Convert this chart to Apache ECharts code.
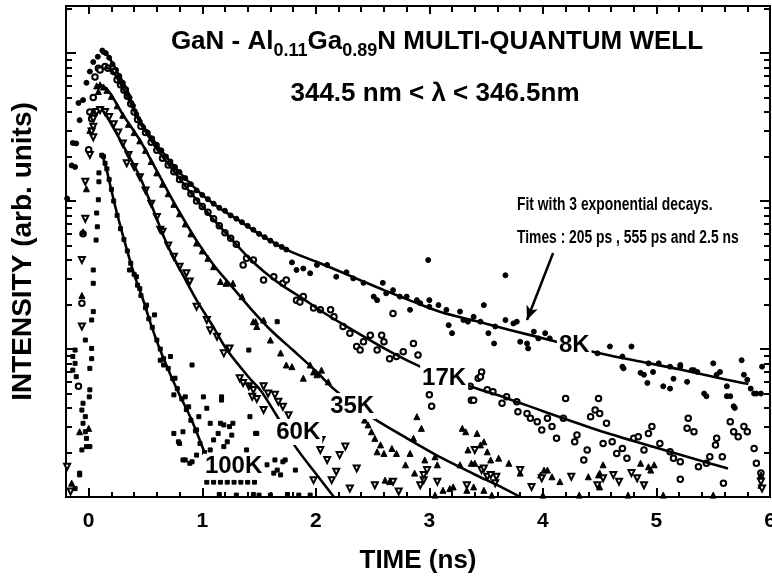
<!DOCTYPE html>
<html>
<head>
<meta charset="utf-8">
<script src="https://cdn.jsdelivr.net/npm/echarts@6/dist/echarts.min.js"></script>
<style>
  html, body { margin: 0; padding: 0; background: #fff; }
  #chart { width: 772px; height: 580px; }
</style>
</head>
<body>
<div id="chart"></div>
<script>
// Time-resolved PL of a GaN / AlGaN multi-quantum well, 344.5-346.5 nm window.
// Points are [time (ns), intensity (arb. units)].

const points8K = [
  [-0.19,104],[-0.15,174],[-0.14,247],[-0.12,170],[-0.11,245],[-0.09,460],[-0.08,352],[-0.05,481],[-0.02,630],[0.01,750],[0.04,870],[0.08,945],
  [0.12,1040],[0.15,1000],[0.18,930],[0.21,840],[0.24,770],[0.27,700],[0.30,630],[0.33,570],[0.36,500],[0.39,440],[0.42,385],[0.45,345],[0.48,315],
  [0.52,290],[0.56,265],[0.60,240],[0.64,220],[0.68,200],[0.72,185],[0.76,170],[0.80,157],[0.85,143],[0.90,130],[0.95,118],[1.00,110],[1.05,103],
  [1.10,96],[1.15,90],[1.20,86],[1.25,80],[1.30,76],[1.35,72],[1.40,68],[1.45,64],[1.50,60],[1.55,57],[1.60,54],[1.65,51],[1.70,49],[1.74,47],
  [1.79,38.5],[1.83,34.2],[1.89,35],[1.95,32.5],[2.01,37],[2.10,37],[2.18,30.8],[2.27,33],[2.33,30],[2.42,28],[2.51,22.6],[2.54,21.4],[2.59,28],
  [2.62,23.8],[2.68,25],[2.74,22.6],[2.80,22.6],[2.83,18.4],[2.89,21.4],[2.92,20.4],[2.99,39.9],[3.00,21.4],[3.00,19.3],[3.08,19.8],[3.15,18.4],
  [3.17,14.5],[3.20,12.8],[3.27,17.9],[3.30,15.7],[3.34,15.3],[3.39,16.5],[3.45,15.3],[3.48,19.8],[3.52,12.8],[3.57,10.9],[3.58,14.2],[3.67,15.7],
  [3.67,31.5],[3.74,14.9],[3.77,15.3],[3.80,11.2],[3.86,10.9],[3.87,10.1],[3.92,13.1],[3.96,11.8],[4.02,12.8],[4.06,11.8],
  [4.48,9.35],[4.59,10.4],[4.70,8.9],[4.78,10.4],[4.71,7.4],[4.86,6.9],[4.93,8.0],[5.02,8.0],[5.12,7.6],[5.21,7.8],[5.31,7.2],[5.36,7.0],
  [5.50,8.0],[5.56,7.0],[5.75,8.4],[5.77,6.7],[4.70,7.6],[4.89,6.7],[4.92,5.9],[4.97,7.0],[5.06,5.6],[5.12,5.4],[5.15,6.3],[5.21,7.6],
  [5.27,6.0],[5.33,7.2],[5.42,5.0],[5.44,4.8],[5.53,6.7],[5.62,5.6],[5.65,4.8],[5.69,4.0],[5.83,5.4],[5.88,5.0],[5.93,7.6],[5.62,4.8],
  [5.68,4.1],[5.86,5.0],[5.92,5.0],[5.80,6.2]
];

const points17K = [
  [-0.09,5.6],[-0.06,20.4],[-0.05,60],[0.00,222],[0.01,400],[0.026,360],[0.04,500],[0.055,690],[0.085,790],[0.10,767],
  [0.144,810],[0.17,790],[0.22,750],[0.25,660],[0.28,610],[0.31,560],[0.34,510],[0.37,455],[0.40,400],[0.43,355],[0.46,320],[0.50,290],
  [0.55,250],[0.60,220],[0.65,195],[0.70,175],[0.75,158],[0.80,140],[0.85,126],[0.90,112],[0.95,100],[1.00,92],[1.05,84],[1.10,76],
  [1.15,68],[1.20,61],[1.25,56],[1.30,51],[1.36,37],[1.39,41],[1.45,40],[1.54,29.3],[1.63,30.8],[1.71,27.8],[1.74,29.3],[1.83,21.4],
  [1.86,20.8],[1.89,22.6],[1.98,18.9],[2.04,18.4],[2.13,18.4],[2.16,16.5],[2.24,14.2],[2.30,12.8],[2.36,10.4],[2.39,9.84],[2.42,11.2],
  [2.48,12.4],[2.54,9.84],[2.58,12.4],[2.60,11.2],[2.65,8.6],[2.68,17.4],[2.71,8.9],[2.77,9.6],[2.86,10.9],[2.90,9.1],
  [3.00,4.9],[3.02,4.1],[3.37,4.5],[3.43,6.35],[3.46,7.0],[3.36,5.6],[3.39,4.5],[3.45,6.5],[3.51,5.3],[3.56,5.15],[3.64,4.3],[3.68,4.75],
  [3.77,4.4],[3.78,3.77],[3.86,3.67],[3.89,3.4],[3.95,3.22],[3.99,2.84],[4.04,3.4],[4.08,2.99],[4.12,2.49],[4.20,4.63],[4.18,3.4],
  [4.28,2.36],[4.30,2.62],[4.36,1.78],[4.39,2.08],[4.42,3.49],[4.46,3.87],[4.49,4.63],[4.50,3.67],[4.53,2.3],[4.56,3.15],[4.61,2.36],
  [4.65,1.97],[4.70,2.13],[4.74,1.83],[4.80,2.49],[4.84,2.55],[4.89,2.08],[4.93,2.69],[4.96,2.99],[5.03,2.3],[5.12,2.02],[5.15,1.83],
  [5.21,1.73],[5.28,3.4],[5.27,2.91],[5.33,2.76],[5.37,1.6],[5.44,1.69],[5.47,1.87],[5.52,2.25],[5.53,2.49],[5.58,1.87],[5.59,1.24],
  [5.65,3.22],[5.68,2.76],[5.72,2.55],[5.77,2.99],[5.80,2.76],[5.86,2.13],[5.88,1.69],[5.92,1.45],[5.21,1.32]
];

const points35K = [
  [-0.15,1.24],[-0.08,2.76],[0.00,2.91],[-0.06,23],[-0.05,62],[-0.02,121],[0.01,300],[0.04,405],[0.07,600],[0.085,550],
  [0.10,610],[0.13,590],[0.16,560],[0.20,510],[0.25,440],[0.30,380],[0.35,330],[0.40,290],[0.45,255],[0.50,220],[0.55,185],[0.60,155],
  [0.65,130],[0.70,112],[0.75,95],[0.80,82],[0.85,70],[0.90,60],[0.95,52],[1.00,46],[1.05,41],[1.10,36],[1.16,28.6],[1.21,27.8],
  [1.27,27.8],[1.35,22.6],[1.45,15.3],[1.48,14.2],[1.47,15.3],[1.54,15.7],[1.60,11.5],[1.69,9.4],[1.74,7.8],[1.79,7.6],[1.89,6.35],
  [1.95,7.8],[1.98,7.0],[2.01,6.7],[2.05,7.2],[2.11,6.0],
  [2.43,3.31],[2.46,3.07],[2.49,2.76],[2.52,2.49],[2.57,2.25],[2.54,2.02],[2.60,1.97],[2.67,2.13],[2.71,1.97],[2.79,1.65],[2.83,1.97],
  [2.89,3.49],[2.93,2.91],[2.86,2.49],[2.96,1.78],[3.07,1.65],[3.05,1.87],[3.12,1.11],[2.61,1.3],[2.65,1.27],[3.27,1.65],[3.29,2.91],
  [3.32,2.76],[3.42,2.69],[3.45,2.25],[3.48,2.36],[3.51,2.02],[3.37,1.69],[3.54,1.78],[3.61,1.83],[3.33,1.11],[3.48,1.11],[3.18,1.14],
  [2.87,1.45],[3.34,2.08],[3.40,1.69],[3.70,1.69],[3.80,1.45],[3.98,1.41],[4.01,1.52],[4.04,1.52],[4.08,1.37],[4.15,1.27],[4.40,1.37],
  [4.49,1.41],[4.53,1.65],[4.86,1.69],[4.93,1.6],[4.50,1.17],[3.21,1.17],[3.39,1.17],[5.92,1.41],[4.95,1.52],[4.98,1.65],[5.92,1.2],
  [4.50,1.45],[3.05,1.03],[3.55,1.03],[4.00,1.03],[4.32,1.03],[4.75,1.03],[5.06,1.03],[5.50,1.03]
];

const points60K = [
  [-0.19,1.6],[-0.16,1.09],[-0.06,14.2],[-0.06,40],[-0.03,76],[-0.03,135],[0.01,205],[0.04,270],[0.026,295],[0.04,318],[0.04,360],[0.07,400],
  [0.10,412],[0.144,400],[0.18,370],[0.22,330],[0.26,290],[0.30,245],[0.335,180],[0.35,205],[0.40,170],[0.45,145],[0.50,118],[0.55,96],
  [0.60,78],[0.63,64],[0.65,62],[0.70,50],[0.75,42],[0.80,36],[0.86,32.5],[0.89,28.6],[0.95,19.3],[1.04,15.7],[1.07,13.4],[1.13,12.1],
  [1.19,9.35],[1.24,10.1],[1.33,6.35],[1.36,5.9],[1.41,5.6],[1.44,4.75],[1.45,5.28],[1.48,4.6],[1.54,5.6],[1.54,3.87],[1.58,5.0],
  [1.64,4.9],[1.67,4.4],[1.71,4.07],[1.76,3.57],[1.98,1.3],[2.04,2.08],[2.05,2.43],[2.10,1.78],[2.14,1.3],[2.18,1.48],[2.21,1.92],
  [2.26,2.19],[2.30,1.14],[2.36,1.56],[2.52,1.2],[2.68,1.27],[2.73,1.09],[2.92,1.2],[2.95,1.3],[2.98,1.52],[3.07,1.27],[3.33,1.2],
  [3.40,2.08],[3.46,1.52],[3.48,1.56],[3.51,1.37],[3.54,1.41],[3.58,1.24],[3.59,1.37],[3.80,1.52],[3.90,1.17],[3.99,1.34],[4.25,1.37],
  [4.48,1.2],[4.53,1.34],[4.62,1.41],[4.67,1.27],[4.78,1.45],[4.83,1.34],[4.89,1.2],[5.92,1.27],[5.93,1.14],[2.95,1.41]
];

const points100K = [
  [-0.12,9.84],[-0.14,8.9],[-0.12,8.0],[-0.14,7.2],[-0.11,6.5],[-0.05,4.3],[-0.06,3.87],[-0.03,3.49],[-0.05,3.15],[-0.03,2.76],
  [-0.02,2.49],[-0.06,2.08],[0.01,2.19],[-0.08,1.45],[-0.12,1.14],
  [-0.08,1.41],[-0.02,2.19],[0.005,4.75],[0.01,5.3],[0.01,7.4],[0.026,8.6],[0.026,10.1],[-0.03,11.5],[0.026,15.7],[0.04,17.9],
  [0.04,27.8],[0.04,34.2],[0.065,54.5],[0.076,67],[0.07,83],[0.085,102],[0.09,135],[0.09,155],
  [0.115,204],[0.13,200],[0.144,180],[0.16,165],[0.18,140],[0.20,120],[0.22,100],[0.25,80],[0.28,65],[0.31,55],[0.34,46],[0.36,34.2],
  [0.37,38],[0.40,32],[0.42,30.8],[0.43,27],[0.45,25.6],[0.46,23],[0.50,19],[0.51,19.8],[0.53,16],[0.56,14],[0.58,17.0],[0.60,11.5],
  [0.63,10],[0.63,8.4],[0.66,8.6],[0.66,7.8],[0.70,7.4],[0.72,8.9],[0.74,6.3],[0.76,6.35],[0.78,5.4],[0.82,4.6],[0.75,4.9],[0.85,4.75],
  [0.86,3.9],[0.88,4.07],[0.90,3.3],[0.91,7.8],[0.94,2.8],[0.98,2.3],[1.01,4.75],[0.97,3.49],[0.95,2.84],[1.02,2.0],[1.04,3.98],
  [1.07,3.15],[1.10,2.43],[1.16,3.15],[1.22,2.36],[1.27,3.15],[1.19,2.19],[0.75,2.69],[0.79,2.36],[0.83,2.76],[0.80,2.3],[0.85,1.78],
  [0.91,1.73],[0.95,1.92],[1.17,4.75],[1.42,3.49],[1.41,9.84],[1.17,4.52],[1.48,2.69],[1.39,2.08],[1.19,3.07],[1.24,2.99],[1.26,2.62],
  [1.14,2.69],[1.07,2.08],[1.57,1.65],[1.64,1.78],[1.66,1.52],[1.73,1.78],[1.63,1.45],[1.82,1.52],[1.69,1.41],[0.83,1.78],[0.89,1.69],
  [1.42,5.6],[1.47,2.69],[1.71,1.73],[1.66,15.3],
  [1.04,1.26],[1.10,1.26],[1.16,1.26],[1.22,1.26],[1.28,1.26],[1.34,1.26],[1.40,1.26],[1.46,1.26],
  [1.15,1.04],[1.30,1.03],[1.45,1.04],[1.50,1.03],[1.60,1.03],[1.75,1.04],[1.85,1.03],[1.95,1.03]
];

// Three-exponential fits, one curve per temperature
const fit8K = [
  [0.11,1000],[0.16,980],[0.20,880],[0.25,750],[0.30,640],[0.34,560],[0.40,420],[0.45,345],[0.52,290],[0.60,240],[0.70,192],
  [0.80,156],[0.90,130],[1.00,110],[1.15,90],[1.30,76],[1.50,60],[1.74,47],[2.00,39],[2.15,35],[2.40,29],[2.60,25],[2.85,21],
  [3.10,17.8],[3.40,15.5],[3.70,13.5],[4.06,11.5],[4.44,9.6],[4.80,8.4],[5.20,7.3],[5.62,6.2],[5.81,5.8]
];
const fit17K = [
  [0.15,800],[0.20,770],[0.25,680],[0.30,580],[0.35,490],[0.40,410],[0.45,340],[0.50,295],[0.60,225],[0.70,178],[0.80,142],
  [0.90,113],[1.00,92],[1.10,75],[1.25,56],[1.40,42],[1.55,33],[1.70,27],[1.86,22.6],[2.05,18],[2.27,14.2],[2.50,11.2],[2.70,9.2],
  [2.92,7.6],[3.13,6.5],[3.33,5.7],[3.70,4.6],[4.00,3.8],[4.48,2.84],[5.00,2.15],[5.30,1.84],[5.63,1.56]
];
const fit35K = [
  [0.10,610],[0.15,580],[0.20,520],[0.30,385],[0.45,258],[0.60,160],[0.70,115],[0.80,84],[0.95,54],[1.10,37],[1.25,27],[1.42,19],
  [1.60,13.5],[1.80,9.8],[2.00,7.1],[2.155,5.4],[2.32,4.3],[2.508,3.4],[2.80,2.5],[3.10,1.85],[3.40,1.42],[3.63,1.17],[3.80,1.0]
];
const fit60K = [
  [0.13,405],[0.20,330],[0.30,240],[0.45,146],[0.55,95],[0.69,51],[0.80,35],[0.95,21.4],[1.10,14],[1.22,9.8],[1.42,6.3],
  [1.51,5.3],[1.66,3.5],[1.82,2.19],[2.00,1.44],[2.16,1.0]
];
const fit100K = [
  [0.12,204],[0.16,160],[0.20,118],[0.25,82],[0.32,52],[0.40,32],[0.48,21.4],[0.55,14.5],[0.63,9.8],[0.72,6.7],[0.80,4.9],
  [0.90,3.4],[1.02,2.0]
];

// Temperature tags placed on their curves: [time, intensity, text]
const curveTags = [
  [4.276,10.6,'8K'],[3.13,6.37,'17K'],[2.32,4.12,'35K'],[1.845,2.75,'60K'],[1.276,1.6,'100K']
];
// Arrow from the fit note down to the 8K curve
const arrowFrom = [4.09,44.5];
const arrowTo = [3.86,15.7];

// Axis ticks
const timeMajorTicks = [0,1,2,3,4,5,6];
const timeMinorTicks = [-0.2,0.2,0.4,0.6,0.8,1.2,1.4,1.6,1.8,2.2,2.4,2.6,2.8,3.2,3.4,3.6,3.8,4.2,4.4,4.6,4.8,5.2,5.4,5.6,5.8];
const intensityMajorTicks = [1,10,100,1000];
const intensityMinorTicks = [2,3,4,5,6,7,8,9,20,30,40,50,60,70,80,90,200,300,400,500,600,700,800,900,2000];

const FONT = "'Liberation Sans', Arial, Helvetica, sans-serif";
const BLACK = '#000';
const X_MIN = -0.2, X_MAX = 6, Y_MIN = 1, Y_MAX = 2080;

function xAxisDef(position, ticks, len, withLabels) {
  return {
    type: 'value', position, min: X_MIN, max: X_MAX,
    axisLine: { show: true, onZero: false, lineStyle: { color: BLACK, width: 2 } },
    axisTick: { show: true, inside: true, length: len, customValues: ticks, lineStyle: { color: BLACK, width: 2 } },
    axisLabel: withLabels
      ? { show: true, customValues: timeMajorTicks, margin: 14, color: BLACK, fontSize: 21, fontWeight: 'bold', fontFamily: FONT }
      : { show: false },
    splitLine: { show: false }
  };
}
function yAxisDef(position, ticks, len) {
  return {
    type: 'log', logBase: 10, position, min: Y_MIN, max: Y_MAX,
    axisLine: { show: true, onZero: false, lineStyle: { color: BLACK, width: 2 } },
    axisTick: { show: true, inside: true, length: len, customValues: ticks, lineStyle: { color: BLACK, width: 2 } },
    axisLabel: { show: false },
    splitLine: { show: false }
  };
}

const xAxes = [
  xAxisDef('bottom', timeMajorTicks, 9, true),
  xAxisDef('bottom', timeMinorTicks, 5, false),
  xAxisDef('top', timeMajorTicks, 8, false),
  xAxisDef('top', timeMinorTicks, 6, false)
];
Object.assign(xAxes[0], {
  name: 'TIME (ns)', nameLocation: 'middle', nameGap: 51,
  nameTextStyle: { color: BLACK, fontSize: 26, fontWeight: 'bold', fontFamily: FONT }
});

const yAxes = [
  yAxisDef('left', intensityMajorTicks, 10),
  yAxisDef('left', intensityMinorTicks, 6),
  yAxisDef('right', intensityMajorTicks, 10),
  yAxisDef('right', intensityMinorTicks, 6)
];
Object.assign(yAxes[0], {
  name: 'INTENSITY (arb. units)', nameLocation: 'middle', nameGap: 29, nameRotate: 90,
  nameTextStyle: { color: BLACK, fontSize: 28, fontWeight: 'bold', fontFamily: FONT }
});

function scatterSeries(name, data, symbol, size, extra) {
  return Object.assign({
    name, type: 'scatter', data, symbol, symbolSize: size, z: 2,
    xAxisIndex: 0, yAxisIndex: 0,
    itemStyle: { color: BLACK, borderColor: BLACK, borderWidth: 1, opacity: 1 },
    emphasis: { disabled: true }
  }, extra || {});
}
function fitSeries(name, data) {
  return {
    name, type: 'line', data, showSymbol: false, smooth: 0.3, z: 3,
    xAxisIndex: 0, yAxisIndex: 0,
    lineStyle: { color: BLACK, width: 2.6 },
    emphasis: { disabled: true }
  };
}

// The fit note is set in a narrow bold face
const noteStyle = {
  fill: BLACK, fontSize: 18, fontWeight: 'bold', fontFamily: FONT, align: 'left', verticalAlign: 'middle'
};

const chart = echarts.init(document.getElementById('chart'), null, { renderer: 'canvas' });
chart.setOption({
  animation: false,
  backgroundColor: '#fff',
  grid: { left: 66, right: 2, top: 6, bottom: 83, containLabel: false, outerBoundsMode: 'none' },
  xAxis: xAxes,
  yAxis: yAxes,
  graphic: [
    {
      type: 'text', x: 437, y: 42, z: 10,
      style: {
        text: 'GaN - Al{s|0.11}Ga{s|0.89}N MULTI-QUANTUM WELL',
        fill: BLACK, fontSize: 26, fontWeight: 'bold', fontFamily: FONT,
        align: 'center', verticalAlign: 'middle',
        rich: { s: { fontSize: 18, fontWeight: 'bold', fontFamily: FONT, fill: BLACK, verticalAlign: 'bottom', padding: [19, 0, 0, 0] } }
      }
    },
    {
      type: 'text', x: 435, y: 94, z: 10,
      style: { text: '344.5 nm < \u03bb < 346.5nm', fill: BLACK, fontSize: 26, fontWeight: 'bold', fontFamily: FONT, align: 'center', verticalAlign: 'middle' }
    },
    {
      type: 'text', x: 517, y: 205, z: 10, scaleX: 0.77,
      style: Object.assign({ text: 'Fit with 3 exponential decays.' }, noteStyle)
    },
    {
      type: 'text', x: 517, y: 238, z: 10, scaleX: 0.77,
      style: Object.assign({ text: 'Times : 205 ps , 555 ps and 2.5 ns' }, noteStyle)
    }
  ],
  series: [
    scatterSeries('8K', points8K, 'circle', 5),
    scatterSeries('17K', points17K, 'emptyCircle', 5.5),
    scatterSeries('35K', points35K, 'triangle', 6),
    scatterSeries('60K', points60K, 'emptyTriangle', 6, { symbolRotate: 180 }),
    scatterSeries('100K', points100K, 'rect', 4),
    fitSeries('fit 8K', fit8K),
    fitSeries('fit 17K', fit17K),
    fitSeries('fit 35K', fit35K),
    fitSeries('fit 60K', fit60K),
    fitSeries('fit 100K', fit100K),
    {
      name: 'tags', type: 'scatter', z: 6, xAxisIndex: 0, yAxisIndex: 0,
      symbol: 'circle', symbolSize: 0,
      itemStyle: { opacity: 1 },
      data: curveTags.map(d => ({ value: [d[0], d[1]], name: d[2] })),
      label: {
        show: true, position: 'inside', formatter: p => p.name,
        color: BLACK, fontSize: 24, fontWeight: 'bold', fontFamily: FONT,
        backgroundColor: '#fff', padding: [1, 2]
      },
      emphasis: { disabled: true },
      markLine: {
        silent: true, symbol: ['none', 'arrow'], symbolSize: [9, 14],
        label: { show: false },
        lineStyle: { color: BLACK, width: 2.5, type: 'solid', opacity: 1 },
        data: [[{ coord: arrowFrom }, { coord: arrowTo }]]
      }
    }
  ]
});
</script>
</body>
</html>
